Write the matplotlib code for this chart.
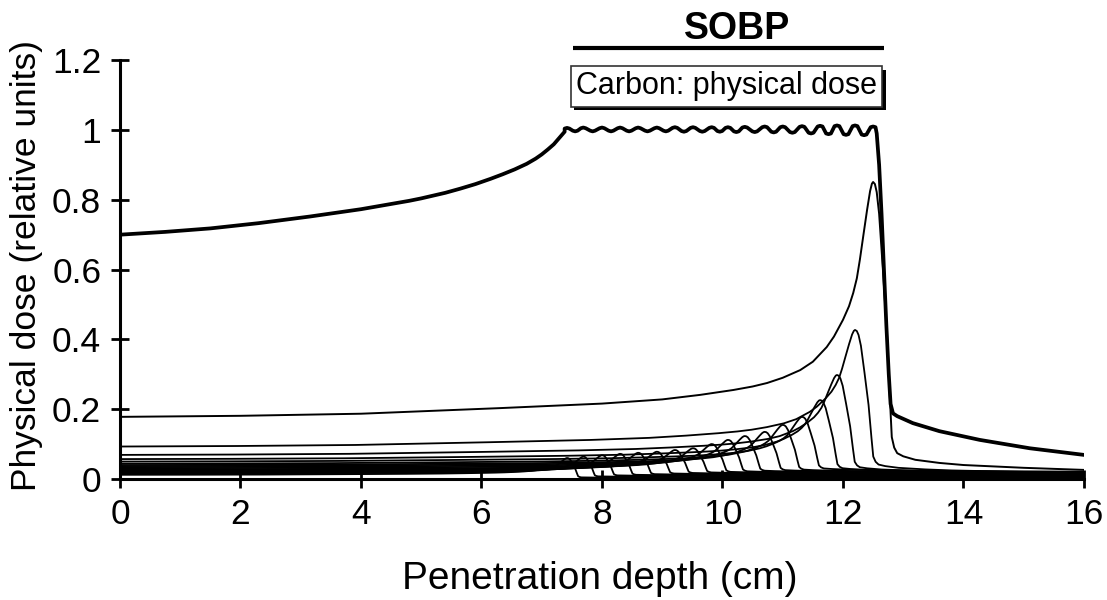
import numpy as np
import matplotlib.pyplot as plt
import matplotlib.patheffects as pe

plt.rcParams['font.family'] = ['Liberation Sans', 'DejaVu Sans']

# spread-out Bragg peak (sum curve)
# rising entrance part
sobp_in_x = [0.0, 0.75, 1.5, 2.3, 3.15, 4.0, 4.8, 5.0, 5.4, 5.65, 5.9, 6.15, 6.35, 6.55,
             6.75, 6.9, 7.0, 7.1, 7.2, 7.3, 7.38]
sobp_in_y = [0.700, 0.708, 0.718, 0.733, 0.752, 0.773, 0.797, 0.804, 0.820, 0.832, 0.845,
             0.860, 0.873, 0.887, 0.903, 0.918, 0.930, 0.944, 0.959, 0.979, 0.995]
# ripple on the plateau: crests sit on the single peaks
crest_x = [7.42, 7.69, 8.0, 8.3, 8.6, 8.91, 9.21, 9.51, 9.82, 10.09,
           10.37, 10.7, 11.0, 11.32, 11.62, 11.9, 12.2, 12.5]
crest_y = [1.006, 1.007, 1.007, 1.007, 1.007, 1.007, 1.008, 1.008, 1.008, 1.008,
           1.009, 1.010, 1.010, 1.011, 1.012, 1.013, 1.013, 1.010]
trough_y = [0.996, 0.996, 0.996, 0.996, 0.996, 0.996, 0.995, 0.995, 0.995,
            0.994, 0.994, 0.993, 0.992, 0.990, 0.988, 0.986, 0.985]
# distal fall-off and tail
sobp_out_x = [12.56, 12.6, 12.64, 12.68, 12.72, 12.76, 12.79, 12.83, 12.9, 13.16, 13.6,
              14.27, 15.1, 16.0]
sobp_out_y = [0.990, 0.900, 0.760, 0.600, 0.440, 0.300, 0.215, 0.188, 0.180, 0.160, 0.137,
              0.112, 0.088, 0.069]

# deepest single peak, read point by point
peak_x = [0.0, 2.0, 4.0, 6.3, 8.0, 9.0, 9.63, 10.18, 10.5, 10.74, 11.0, 11.29, 11.5, 11.73,
          11.85, 12.0, 12.1, 12.17, 12.23, 12.28, 12.34, 12.4, 12.45, 12.48, 12.5, 12.53,
          12.56, 12.6, 12.66, 12.73, 12.78, 12.81, 12.85, 12.9, 13.0, 13.2, 13.6, 14.0,
          15.0, 16.0]
peak_y = [0.178, 0.181, 0.187, 0.203, 0.216, 0.228, 0.241, 0.255, 0.265, 0.275, 0.290,
          0.312, 0.336, 0.378, 0.408, 0.456, 0.495, 0.533, 0.575, 0.628, 0.700, 0.771,
          0.825, 0.846, 0.851, 0.845, 0.822, 0.760, 0.607, 0.418, 0.226, 0.120, 0.090,
          0.074, 0.065, 0.055, 0.046, 0.040, 0.032, 0.026]

# shallower peaks: range (cm), peak dose, entrance dose
ranges = [7.42, 7.69, 8.0, 8.3, 8.6, 8.91, 9.21, 9.51, 9.82, 10.09,
          10.37, 10.7, 11.0, 11.32, 11.62, 11.9, 12.2]
peak_heights = [0.060, 0.064, 0.068, 0.072, 0.075, 0.078, 0.083, 0.088, 0.100, 0.112,
                0.123, 0.135, 0.155, 0.178, 0.226, 0.298, 0.427]
entrance = [0.012, 0.015, 0.018, 0.020, 0.022, 0.024, 0.026, 0.028, 0.031, 0.034,
            0.037, 0.040, 0.044, 0.050, 0.057, 0.069, 0.093]

xticks = [0, 2, 4, 6, 8, 10, 12, 14, 16]
yticks = [0, 0.2, 0.4, 0.6, 0.8, 1.0, 1.2]
ytick_labels = ['0', '0.2', '0.4', '0.6', '0.8', '1', '1.2']

fig = plt.figure(figsize=(11.07, 6.0), dpi=100)
ax = fig.add_axes([0.1084, 0.2017, 0.8708, 0.698])

# shallower peaks drawn as stretched copies of the deepest one
px = np.array(peak_x)
py = np.array(peak_y)
R0 = 12.5
e0 = py[0]
p0 = py.max()
g = (py - e0) / (p0 - e0)
tail_start = 12.9
for R, h, e in zip(ranges, peak_heights, entrance):
    s = R / R0
    x = np.where(px <= tail_start, px * s,
                 tail_start * s + (px - tail_start) * (16 - tail_start * s) / (16 - tail_start))
    y = e + (h - e) * g
    ax.plot(x, y, color='black', lw=1.3)

ax.plot(peak_x, peak_y, color='black', lw=1.4)

# SOBP line: entrance, rounded ripple, fall-off
sx = list(sobp_in_x)
sy = list(sobp_in_y)
for i in range(len(crest_x)):
    c, cy = crest_x[i], crest_y[i]
    sx += [c - 0.04, c, c + 0.04]
    sy += [cy - 0.002, cy, cy - 0.002]
    if i < len(trough_y):
        m = (c + crest_x[i + 1]) / 2
        ty = trough_y[i]
        sx += [m - 0.04, m, m + 0.04]
        sy += [ty + 0.002, ty, ty + 0.002]
sx += sobp_out_x
sy += sobp_out_y
ax.plot(sx, sy, color='black', lw=2.7, solid_joinstyle='round')

ax.set_xlim(0, 16)
ax.set_ylim(0, 1.2)
ax.set_xticks(xticks)
ax.set_yticks(yticks)
ax.set_yticklabels(ytick_labels)
ax.spines['top'].set_visible(False)
ax.spines['right'].set_visible(False)
ax.spines['left'].set_linewidth(2.2)
ax.spines['bottom'].set_linewidth(2.2)
ax.tick_params(direction='inout', length=13, width=2.0, labelsize=25.5, pad=7)

ax.set_xlabel('Penetration depth (cm)', fontsize=28)
ax.set_ylabel('Physical dose (relative units)', fontsize=25.5)
ax.xaxis.set_label_coords(0.498, -0.195)
ax.yaxis.set_label_coords(-0.08, 0.51)

# SOBP bar and label above the axes
ax.plot([7.52, 12.68], [1.235, 1.235], color='black', lw=3.0, clip_on=False,
        solid_capstyle='butt')
ax.text(10.24, 1.29, 'SOBP', fontsize=27, fontweight='bold', ha='center', va='center',
        clip_on=False)

t = ax.text(10.07, 1.125, 'Carbon: physical dose', fontsize=22, ha='center', va='center',
            bbox=dict(boxstyle='square,pad=0.17', fc='white', ec='#333333', lw=1.2))
t.get_bbox_patch().set_path_effects([
    pe.SimplePatchShadow(offset=(2.5, -2.5), shadow_rgbFace='black', alpha=1.0),
    pe.Normal()])

fig.savefig('out.png', dpi=100)
